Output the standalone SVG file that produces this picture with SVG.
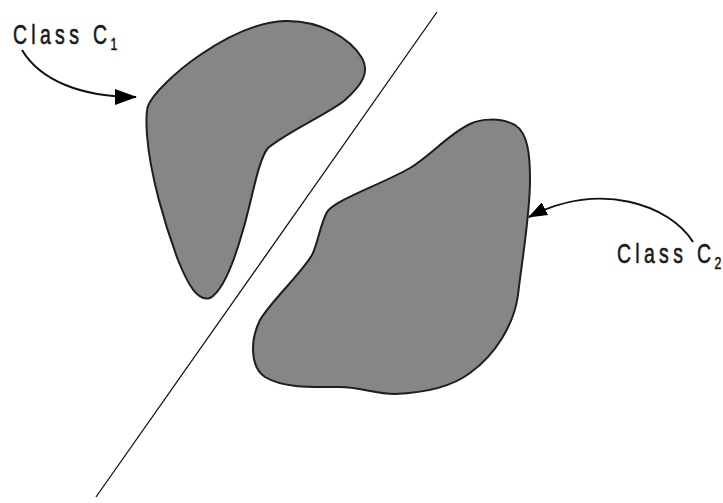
<svg xmlns="http://www.w3.org/2000/svg" width="723" height="503" viewBox="0 0 723 503">
<style>
.blob{fill:#868686;stroke:#1e1e1e;stroke-width:2;stroke-linejoin:round}
.lbl{font-family:"Liberation Sans",Arial,sans-serif;font-size:27px;fill:#1a1a1a;stroke:#1a1a1a;stroke-width:0.6;letter-spacing:6px}
.sub{font-size:17px;letter-spacing:0}
.conn{fill:none;stroke:#111;stroke-width:2}
</style>
<defs>
<marker id="ah" markerWidth="22" markerHeight="16" refX="21" refY="8" orient="auto" markerUnits="userSpaceOnUse">
<path d="M0,0 L22,8 L0,16 Z" fill="#000"/>
</marker>
<marker id="ah2" markerWidth="19" markerHeight="14" refX="18" refY="7" orient="auto" markerUnits="userSpaceOnUse">
<path d="M0,0 L19,7 L0,14 Z" fill="#000"/>
</marker>
</defs>
<rect width="723" height="503" fill="#fff"/>
<g id="class-c1">
<path class="blob" d="M148,106 C152,95 175,72 200,55 C225,38 255,22 285,21 C320,20 350,38 362,58 C370,72 362,85 345,100 C330,113 290,130 268,148 C258,160 252,200 243,230 C236,255 225,290 210,298 C198,302 188,285 178,260 C165,225 150,175 147,135 C146,120 146,112 148,106 Z"/>
</g>
<g id="class-c2">
<path class="blob" d="M470,124 C480,119 500,117 515,125 C528,133 530,155 530,180 C530,215 522,260 518,295 C514,325 495,355 470,373 C450,388 420,393 395,394 C375,394 360,387 340,387 C315,387 285,389 265,377 C250,367 250,340 260,320 C272,300 300,275 312,255 C318,243 320,225 327,212 C335,200 380,185 410,168 C430,156 450,133 470,124 Z"/>
</g>
<g id="boundary">
<line x1="437" y1="12" x2="96" y2="497" stroke="#111" stroke-width="1.3"/>
</g>
<g id="label-c1">
<text class="lbl" transform="translate(13,44) scale(0.72,1)">Class C<tspan class="sub" dx="-1" dy="6">1</tspan></text>
</g>
<g id="label-c2">
<text class="lbl" transform="translate(617,263) scale(0.72,1)">Class C<tspan class="sub" dx="-1" dy="6">2</tspan></text>
</g>
<g id="connectors">
<path class="conn" d="M22,50 C40,80 80,97 136,97" marker-end="url(#ah)"/>
<path class="conn" stroke-width="1.6" d="M693,242 C670,205 600,180 529,217" marker-end="url(#ah2)"/>
</g>
</svg>
